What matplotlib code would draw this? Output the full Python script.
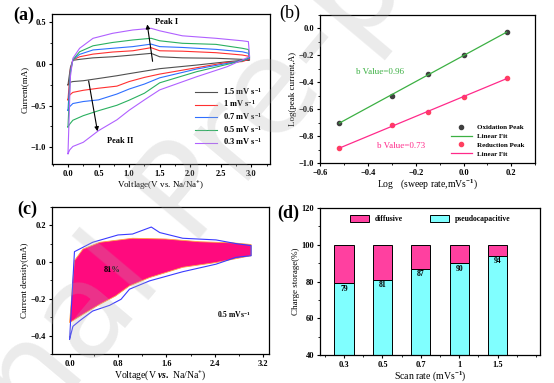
import numpy as np
import matplotlib

matplotlib.use('Agg')
import matplotlib.pyplot as plt
from matplotlib.ticker import MultipleLocator

# ---- (a) CV curves at several scan rates ----
v_up = [0.0, 0.04, 0.08, 0.19, 0.41, 0.73, 1.06, 1.36, 1.5, 1.87, 2.42, 2.85, 2.95]
v_down = [2.97, 2.85, 2.6, 2.1, 1.5, 1.25, 1.0, 0.8, 0.5, 0.25, 0.08, 0.03, 0.0]
rate_labels = ['1.5 mV s$^{-1}$', '1 mV s$^{-1}$', '0.7 mV s$^{-1}$', '0.5 mV s$^{-1}$', '0.3 mV s$^{-1}$']
rate_colors = ['#505050', '#ff3030', '#2f6fff', '#2ab060', '#b060ff']
i_up = [
    [-0.25, -0.04, 0.045, 0.057, 0.075, 0.088, 0.109, 0.129, 0.088, 0.075, 0.07, 0.057, 0.05],
    [-0.43, -0.06, 0.05, 0.088, 0.12, 0.145, 0.16, 0.197, 0.16, 0.155, 0.137, 0.109, 0.095],
    [-0.555, -0.08, 0.05, 0.117, 0.17, 0.19, 0.21, 0.24, 0.21, 0.2, 0.177, 0.148, 0.13],
    [-0.756, -0.1, 0.05, 0.148, 0.22, 0.26, 0.29, 0.31, 0.28, 0.25, 0.237, 0.19, 0.175],
    [-1.077, -0.15, 0.07, 0.19, 0.31, 0.37, 0.41, 0.43, 0.40, 0.34, 0.31, 0.28, 0.27],
]
i_down = [
    [0.05, 0.045, 0.028, -0.012, -0.055, -0.085, -0.115, -0.14, -0.173, -0.2, -0.21, -0.22, -0.25],
    [0.06, 0.03, 0.02, -0.044, -0.12, -0.16, -0.21, -0.265, -0.29, -0.315, -0.34, -0.37, -0.43],
    [0.07, 0.04, 0.008, -0.06, -0.165, -0.24, -0.30, -0.36, -0.43, -0.45, -0.474, -0.51, -0.555],
    [0.08, 0.04, -0.004, -0.092, -0.225, -0.35, -0.434, -0.495, -0.56, -0.62, -0.675, -0.72, -0.756],
    [0.09, 0.05, -0.032, -0.153, -0.31, -0.43, -0.555, -0.67, -0.80, -0.94, -0.99, -1.03, -1.077],
]

# ---- (b) log(peak current) vs log(sweep rate) ----
log_rate = [-0.52, -0.30, -0.15, 0.0, 0.18]
log_ox = [-0.70, -0.50, -0.34, -0.20, -0.03]
log_red = [-0.89, -0.72, -0.62, -0.51, -0.37]

# ---- (c) CV at 0.5 mV/s and capacitive part ----
c_v_total = [0.0, 0.08, 0.38, 0.8, 1.04, 1.35, 1.49, 1.87, 2.42, 2.75, 3.0, 3.0,
             2.75, 2.42, 1.87, 1.32, 0.99, 0.85, 0.66, 0.38, 0.165, 0.055, 0.0]
c_i_total = [-0.42, 0.056, 0.107, 0.147, 0.152, 0.19, 0.16, 0.129, 0.12, 0.10, 0.089, 0.034,
             0.025, -0.012, -0.053, -0.103, -0.148, -0.203, -0.236, -0.267, -0.32, -0.35, -0.42]
c_v_cap = [0.0, 0.08, 0.22, 0.5, 1.04, 1.59, 2.15, 2.7, 3.0, 3.0,
           2.42, 1.87, 1.32, 0.99, 0.76, 0.5, 0.22, 0.0]
c_i_cap = [-0.33, 0.007, 0.07, 0.107, 0.129, 0.125, 0.11, 0.104, 0.095, 0.034,
           -0.003, -0.029, -0.085, -0.13, -0.185, -0.23, -0.285, -0.33]

# ---- (d) capacitive contribution ----
scan_rates = ['0.3', '0.5', '0.7', '1', '1.5']
pseudo = [79, 81, 87, 90, 94]

plt.rcParams['font.family'] = ['Liberation Serif', 'Noto Sans CJK SC']
plt.rcParams['font.weight'] = 'bold'
plt.rcParams['mathtext.fontset'] = 'custom'
plt.rcParams['mathtext.rm'] = 'Liberation Serif:bold'
plt.rcParams['mathtext.it'] = 'Liberation Serif:bold:italic'
plt.rcParams['axes.linewidth'] = 0.9
plt.rcParams['xtick.major.size'] = 2.5
plt.rcParams['ytick.major.size'] = 2.5
plt.rcParams['xtick.minor.size'] = 1.5
plt.rcParams['ytick.minor.size'] = 1.5
plt.rcParams['xtick.labelsize'] = 6
plt.rcParams['ytick.labelsize'] = 6

fig = plt.figure(figsize=(5.54, 3.83), dpi=100)
ax_a = fig.add_axes([0.094, 0.572, 0.393, 0.391])
ax_b = fig.add_axes([0.578, 0.574, 0.388, 0.387])
ax_c = fig.add_axes([0.094, 0.076, 0.392, 0.384])
ax_d = fig.add_axes([0.578, 0.073, 0.397, 0.384])

# (a)
for k in range(len(rate_labels)):
    xs = v_up + v_down
    ys = i_up[k] + i_down[k]
    ax_a.plot(xs, ys, color=rate_colors[k], lw=0.8, label=rate_labels[k])
ax_a.annotate('', xy=(1.29, 0.51), xytext=(1.39, 0.0),
              arrowprops=dict(arrowstyle='-|>', color='black', lw=0.8, mutation_scale=6))
ax_a.annotate('', xy=(0.49, -0.84), xytext=(0.33, -0.17),
              arrowprops=dict(arrowstyle='-|>', color='black', lw=0.8, mutation_scale=6))
ax_a.text(1.42, 0.5, 'Peak I', fontsize=6, va='center')
ax_a.text(0.63, -0.93, 'Peak II', fontsize=6, va='center')
ax_a.set_xlim(-0.26, 3.3)
ax_a.set_ylim(-1.2, 0.6)
ax_a.xaxis.set_major_locator(MultipleLocator(0.5))
ax_a.xaxis.set_minor_locator(MultipleLocator(0.25))
ax_a.yaxis.set_major_locator(MultipleLocator(0.5))
ax_a.yaxis.set_minor_locator(MultipleLocator(0.25))
ax_a.set_xlabel('Voltlage(V vs. Na/Na$^{+}$)', fontsize=6.5, labelpad=1)
ax_a.set_ylabel('Current(mA)', fontsize=6.5, labelpad=1)
ax_a.legend(loc='lower right', frameon=False, fontsize=6, handlelength=2.6,
            labelspacing=0.2, bbox_to_anchor=(1.0, 0.06))

# (b)
ax_b.plot(log_rate, log_ox, 'o', color='#404040', ms=3, label='Oxidation Peak')
fit_ox = np.polyfit(log_rate, log_ox, 1)
ax_b.plot(log_rate, np.polyval(fit_ox, log_rate), color='#3cb043', lw=0.9, label='Linear Fit')
ax_b.plot(log_rate, log_red, 'o', color='#ff4060', ms=3, label='Reduction Peak')
fit_red = np.polyfit(log_rate, log_red, 1)
ax_b.plot(log_rate, np.polyval(fit_red, log_rate), color='#ff2a8a', lw=0.9, label='Linear Fit')
ax_b.text(-0.45, -0.324, 'b Value=0.96', color='#3cb043', fontsize=6.5, weight='normal', va='center')
ax_b.text(-0.364, -0.87, 'b Value=0.73', color='#ff2a8a', fontsize=6.5, weight='normal', va='center')
ax_b.set_xlim(-0.6, 0.3)
ax_b.set_ylim(-1.0, 0.1)
ax_b.xaxis.set_major_locator(MultipleLocator(0.2))
ax_b.xaxis.set_minor_locator(MultipleLocator(0.1))
ax_b.yaxis.set_major_locator(MultipleLocator(0.2))
ax_b.yaxis.set_minor_locator(MultipleLocator(0.1))
ax_b.set_xlabel('Log   (sweep rate,mVs$^{-1}$)', fontsize=7, labelpad=0)
ax_b.set_ylabel('Log(peak current,A)', fontsize=6.5, labelpad=1)
ax_b.legend(loc='lower right', frameon=False, fontsize=5, handlelength=3,
            labelspacing=0.45, bbox_to_anchor=(0.98, 0.0))

# (c)
ax_c.fill(c_v_cap, c_i_cap, facecolor='#ff0a7e', edgecolor='#ffa040', lw=0.6)
ax_c.plot(c_v_total, c_i_total, color='#3a3aff', lw=0.8)
ax_c.text(0.71, -0.044, '81%', fontsize=6, ha='center', va='center')
ax_c.text(2.72, -0.285, '0.5 mVs$^{-1}$', fontsize=5.5, ha='center', va='center')
ax_c.set_xlim(-0.29, 3.3)
ax_c.set_ylim(-0.5, 0.3)
ax_c.xaxis.set_major_locator(MultipleLocator(0.8))
ax_c.xaxis.set_minor_locator(MultipleLocator(0.4))
ax_c.yaxis.set_major_locator(MultipleLocator(0.2))
ax_c.yaxis.set_minor_locator(MultipleLocator(0.1))
ax_c.set_xlabel('Voltage(V $vs.$ Na/Na$^{+}$)', fontsize=7, labelpad=0)
ax_c.set_ylabel('Current density(mA)', fontsize=6.5, labelpad=1)

# (d)
pos = np.arange(1, len(scan_rates) + 1)
diffusive = [100 - p for p in pseudo]
ax_d.bar(pos, pseudo, width=0.5, color='#80ffff', edgecolor='black', lw=0.7, label='pseudocapacitive')
ax_d.bar(pos, diffusive, width=0.5, bottom=pseudo, color='#ff40a0', edgecolor='black', lw=0.7,
         label='diffusive')
for p, val in zip(pos, pseudo):
    ax_d.text(p, val - 3, str(val), fontsize=5.5, ha='center', va='center')
ax_d.set_xlim(0.38, 6.11)
ax_d.set_ylim(40, 120)
ax_d.set_xticks(pos)
ax_d.set_xticklabels(scan_rates)
ax_d.xaxis.set_minor_locator(MultipleLocator(0.5))
ax_d.yaxis.set_major_locator(MultipleLocator(20))
ax_d.yaxis.set_minor_locator(MultipleLocator(10))
ax_d.set_xlabel('Scan rate (mVs$^{-1}$)', fontsize=7, labelpad=0)
ax_d.set_ylabel('Charge storage(%)', fontsize=6.5, labelpad=1)
h, l = ax_d.get_legend_handles_labels()
ax_d.legend(h[::-1], l[::-1], loc='upper center', ncol=2, frameon=False, fontsize=5.5,
            handlelength=2.5, handleheight=1.0, columnspacing=3.5, bbox_to_anchor=(0.5, 1.0))

for ax in (ax_a, ax_b, ax_c, ax_d):
    ax.tick_params(which='both', direction='out', pad=2)
    for t in ax.get_xticklabels() + ax.get_yticklabels():
        t.set_fontweight('bold')

fig.text(0.042, 0.96, '(a)', fontsize=13, ha='center', va='center')
fig.text(0.523, 0.966, '(b)', fontsize=13, weight='normal', ha='center', va='center')
fig.text(0.049, 0.454, '(c)', fontsize=13, ha='center', va='center')
fig.text(0.52, 0.444, '(d)', fontsize=13, ha='center', va='center')

# faint watermark across the page
fig.text(0.36, 0.5, 'Journal Pre-proof', fontsize=95, weight='normal', family='DejaVu Sans',
         color='#b0b0b0', alpha=0.25, rotation=50, ha='center', va='center', zorder=10)

fig.savefig('out.png', dpi=100)
